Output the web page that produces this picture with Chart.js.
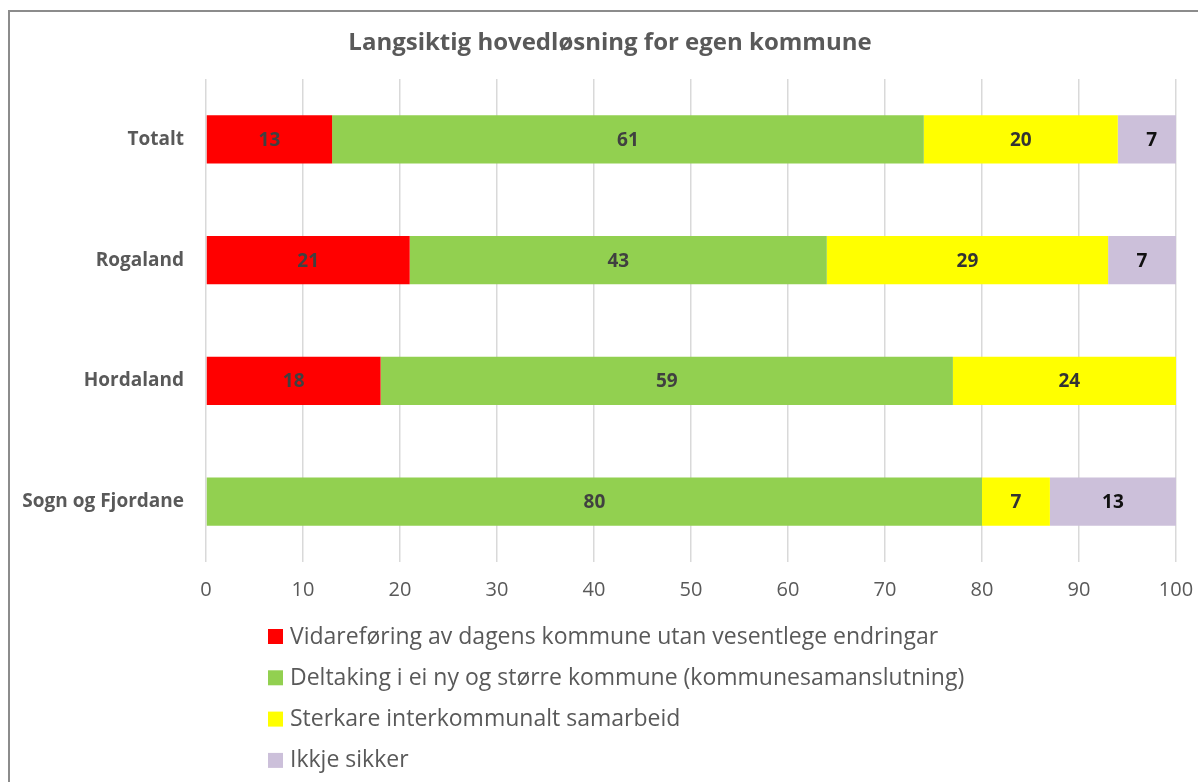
<!DOCTYPE html>
<html>
<head>
<meta charset="utf-8">
<script src="https://cdn.jsdelivr.net/npm/chart.js@4"></script>
<style>
  body { margin: 0; overflow: hidden; background: #fff; }
  #frame { position: absolute; left: 8px; top: 10px; width: 1400px; height: 1000px; border: 2px solid #8c8c8c; }
  #wrap { position: absolute; left: 0; top: 0; width: 1198px; height: 782px; }
</style>
</head>
<body>
<div id="frame"></div>
<div id="wrap"><canvas id="myChart"></canvas></div>
<script>
// data ---------------------------------------->
const chartTitle = 'Langsiktig hovedløsning for egen kommune';
const regions = ['Totalt', 'Rogaland', 'Hordaland', 'Sogn og Fjordane'];
const vidareforing = [13, 21, 18, null];
const deltaking = [61, 43, 59, 80];
const sterkare = [20, 29, 24, 7];
const ikkjeSikker = [7, 7, null, 13];
const seriesNames = [
  'Vidareføring av dagens kommune utan vesentlege endringar',
  'Deltaking i ei ny og større kommune (kommunesamanslutning)',
  'Sterkare interkommunalt samarbeid',
  'Ikkje sikker'
];
const xTicks = [0, 10, 20, 30, 40, 50, 60, 70, 80, 90, 100];

const font = '"Open Sans", sans-serif';
const grey = '#595959';

// title, centred on the whole excel frame
const frameTitle = {
  id: 'frameTitle',
  afterDraw(chart) {
    const c = chart.ctx;
    c.save();
    c.font = 'bold 24px ' + font;
    c.fillStyle = grey;
    c.textAlign = 'center';
    c.textBaseline = 'middle';
    c.fillText(chartTitle, 610, 43);
    c.restore();
  }
};

// labels on the bars
const barLabels = {
  id: 'barLabels',
  afterDatasetsDraw(chart) {
    const c = chart.ctx;
    c.save();
    c.font = 'bold 19px ' + font;
    c.textAlign = 'center';
    c.textBaseline = 'middle';
    chart.data.datasets.forEach((ds, i) => {
      chart.getDatasetMeta(i).data.forEach((bar, j) => {
        const v = ds.data[j];
        if (v == null || v === 0) return;
        const p = bar.getProps(['x', 'y', 'base'], true);
        c.fillStyle = ds.labelColor;
        c.fillText(v, (p.x + p.base) / 2, p.y + 1);
      });
    });
    c.restore();
  }
};

// vertical legend under the axis
const listLegend = {
  id: 'listLegend',
  afterDraw(chart) {
    const c = chart.ctx;
    const a = chart.chartArea;
    c.save();
    c.font = '23px ' + font;
    c.textBaseline = 'middle';
    chart.data.datasets.forEach((ds, i) => {
      const y = a.bottom + 75 + i * 41.3;
      c.fillStyle = ds.backgroundColor;
      c.fillRect(a.left + 62, y - 8, 15, 15);
      c.fillStyle = grey;
      c.fillText(ds.label, a.left + 84, y);
    });
    c.restore();
  }
};

const ctx = document.getElementById('myChart');

new Chart(ctx, {
  type: 'bar',
  data: {
    labels: regions,
    datasets: [{
      label: seriesNames[0],
      data: vidareforing,
      backgroundColor: '#ff0000',
      labelColor: '#404040'
    }, {
      label: seriesNames[1],
      data: deltaking,
      backgroundColor: '#92d050',
      labelColor: '#404040'
    }, {
      label: seriesNames[2],
      data: sterkare,
      backgroundColor: '#ffff00',
      labelColor: '#333333'
    }, {
      label: seriesNames[3],
      data: ikkjeSikker,
      backgroundColor: '#ccc0da',
      labelColor: '#111111'
    }]
  },
  plugins: [frameTitle, barLabels, listLegend],
  options: {
    indexAxis: 'y',
    responsive: true,
    maintainAspectRatio: false,
    animation: false,
    datasets: {
      bar: {
        barPercentage: 0.4,
        categoryPercentage: 1,
        borderWidth: 0
      }
    },
    layout: {
      padding: { top: 79, left: 0, right: 22, bottom: 170 }
    },
    plugins: {
      legend: { display: false },
      tooltip: { enabled: false },
      title: { display: false }
    },
    scales: {
      x: {
        stacked: true,
        min: 0,
        max: 100,
        afterBuildTicks(scale) {
          scale.ticks = xTicks.map(v => ({ value: v }));
        },
        afterFit(scale) {
          scale.height = 50;
          scale.paddingLeft = 0;
          scale.paddingRight = 0;
        },
        border: { display: false },
        grid: {
          color: '#d9d9d9',
          lineWidth: 1.5,
          drawTicks: false
        },
        ticks: {
          color: grey,
          padding: 16,
          maxRotation: 0,
          font: { family: font, size: 20 }
        }
      },
      y: {
        stacked: true,
        afterFit(scale) { scale.width = 206; },
        border: { display: false },
        grid: { display: false, drawTicks: false },
        ticks: {
          color: grey,
          padding: 22,
          font: { family: font, size: 19, weight: 'bold' }
        }
      }
    }
  }
});
</script>
</body>
</html>
